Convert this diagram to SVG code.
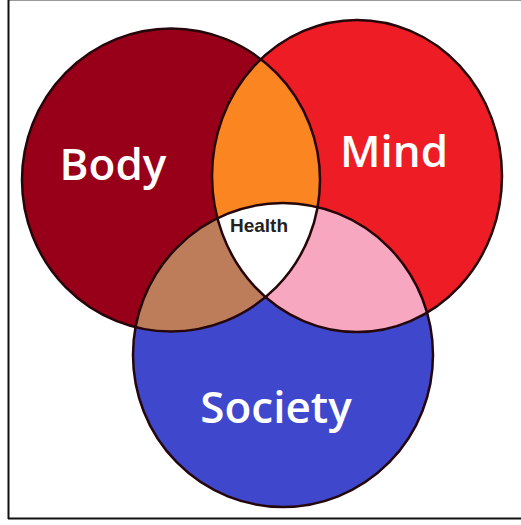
<svg xmlns="http://www.w3.org/2000/svg" width="521" height="525" viewBox="0 0 521 525">
  <style>
    .outline { fill: none; stroke: #25060a; stroke-width: 2.5; }
    .label { font-family: "Open Sans", "Liberation Sans", sans-serif; font-weight: 600; font-size: 44px; fill: #ffffff; text-anchor: middle; }
    .small { font-family: "Liberation Sans", Arial, sans-serif; font-weight: bold; font-size: 19px; fill: #222222; text-anchor: middle; }
    .frame { stroke: #111111; stroke-width: 2; }
  </style>
  <defs>
    <ellipse id="eBody" cx="171" cy="180" rx="149" ry="151.5"/>
    <ellipse id="eMind" cx="357" cy="176" rx="145" ry="156"/>
    <ellipse id="eSociety" cx="283" cy="355" rx="150" ry="152"/>
    <clipPath id="cBody"><use href="#eBody"/></clipPath>
    <clipPath id="cMind"><use href="#eMind"/></clipPath>
  </defs>
  <rect x="0" y="0" width="521" height="525" fill="#ffffff"/>
  <g id="frame">
    <line x1="8" y1="0.5" x2="521" y2="0.5" stroke="#9a9a9a" stroke-width="1"/>
    <line class="frame" x1="8.5" y1="0" x2="8.5" y2="519"/>
    <line class="frame" x1="8" y1="518.5" x2="521" y2="518.5"/>
  </g>
  <g id="body">
    <use href="#eBody" fill="#98001a"/>
  </g>
  <g id="mind">
    <use href="#eMind" fill="#ee1c24"/>
  </g>
  <g id="society">
    <use href="#eSociety" fill="#3f48cc"/>
  </g>
  <g id="body-mind">
    <use href="#eMind" fill="#fb8520" clip-path="url(#cBody)"/>
  </g>
  <g id="mind-society">
    <use href="#eSociety" fill="#f7a7bf" clip-path="url(#cMind)"/>
  </g>
  <g id="body-society">
    <use href="#eSociety" fill="#bd7d5b" clip-path="url(#cBody)"/>
  </g>
  <g id="health">
    <g clip-path="url(#cMind)">
      <use href="#eSociety" fill="#ffffff" clip-path="url(#cBody)"/>
    </g>
    <text class="small" x="259" y="232">Health</text>
  </g>
  <g id="outlines">
    <use href="#eBody" class="outline"/>
    <use href="#eMind" class="outline"/>
    <use href="#eSociety" class="outline"/>
  </g>
  <g id="labels">
    <text class="label" x="113" y="180">Body</text>
    <text class="label" x="394" y="167">Mind</text>
    <text class="label" x="276" y="423">Society</text>
  </g>
</svg>
